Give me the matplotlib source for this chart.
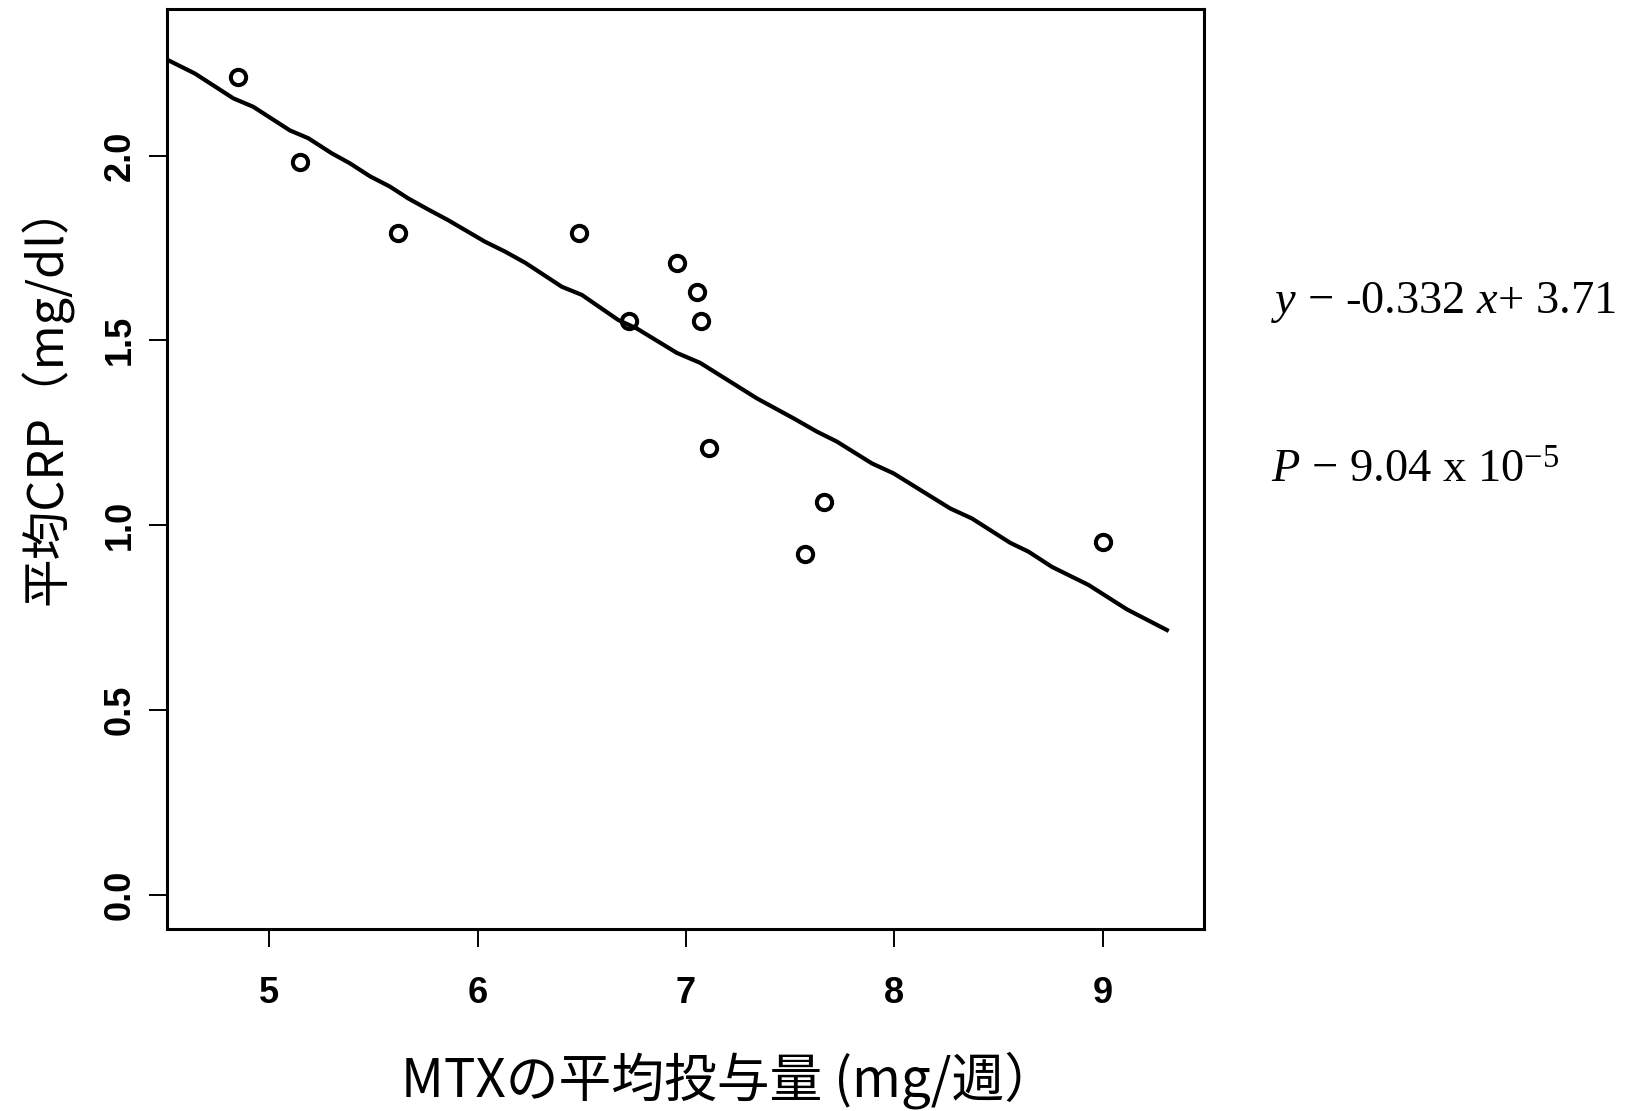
import numpy as np
import matplotlib
matplotlib.use('Agg')
import matplotlib.pyplot as plt

# datos
dosis = [4.85, 5.145, 5.62, 6.484, 6.724, 6.956, 7.052, 7.073, 7.108, 7.66, 7.571, 9.0]
crp = [2.212, 1.983, 1.791, 1.791, 1.553, 1.708, 1.630, 1.553, 1.208, 1.063, 0.921, 0.955]

# curva ajustada (trazo tal como aparece)
curva_x = [4.515, 4.643, 4.827, 4.923, 5.099, 5.187, 5.300, 5.387, 5.483, 5.579,
           5.667, 5.763, 5.859, 6.035, 6.132, 6.228, 6.404, 6.500, 6.675, 6.764,
           6.956, 7.068, 7.340, 7.516, 7.628, 7.724, 7.892, 7.996, 8.268, 8.372,
           8.556, 8.644, 8.756, 8.932, 9.116, 9.308]
curva_y = [2.258, 2.222, 2.155, 2.132, 2.068, 2.047, 2.006, 1.979, 1.944, 1.916,
           1.884, 1.854, 1.825, 1.767, 1.740, 1.710, 1.645, 1.623, 1.555, 1.532,
           1.466, 1.439, 1.343, 1.289, 1.253, 1.226, 1.167, 1.140, 1.045, 1.018,
           0.952, 0.928, 0.887, 0.838, 0.772, 0.716]

x_ticks = [5, 6, 7, 8, 9]
y_ticks = [0.0, 0.5, 1.0, 1.5, 2.0]
y_tick_labels = ['0.0', '0.5', '1.0', '1.5', '2.0']

W, H = 1637, 1111
fig = plt.figure(figsize=(W / 100, H / 100), dpi=100)
ax = fig.add_axes([167 / W, 1 - 929 / H, (1204 - 167) / W, (929 - 8.5) / H])

ax.plot(curva_x, curva_y, color='black', linewidth=3.0, solid_joinstyle='round')
ax.plot(dosis, crp, linestyle='none', marker='o', markersize=11,
        markerfacecolor='none', markeredgecolor='black', markeredgewidth=2.9)

ax.set_xlim(4.509, 9.486)
ax.set_ylim(-0.093, 2.398)

for s in ax.spines.values():
    s.set_linewidth(2.2)

tick_font = ['Liberation Sans', 'DejaVu Sans']
ax.set_xticks(x_ticks)
ax.set_xticklabels([str(t) for t in x_ticks], family=tick_font, fontsize=26,
                   fontweight='bold')
ax.set_yticks(y_ticks)
ax.set_yticklabels(y_tick_labels, family=tick_font, fontsize=26, rotation=90,
                   va='center', fontweight='bold')
ax.tick_params(axis='both', length=13, width=1.4, direction='out')
ax.tick_params(axis='x', pad=21)
ax.tick_params(axis='y', pad=8)

cjk = ['Noto Sans CJK JP', 'DejaVu Sans']
fig.text(729 / W, 1 - 1080 / H, 'MTXの平均投与量 (mg/週）', family=cjk,
         fontsize=38, ha='center', va='center')
fig.text(47 / W, 1 - 394 / H, '平均CRP（mg/dl）', family=cjk,
         fontsize=35, ha='center', va='center', rotation=90)

plt.rcParams['mathtext.fontset'] = 'custom'
plt.rcParams['mathtext.rm'] = 'Liberation Serif'
plt.rcParams['mathtext.it'] = 'Liberation Serif:italic'
serif = ['Liberation Serif', 'DejaVu Serif']
fig.text(1271 / W, 1 - 313 / H, r'$y$ − -0.332 $x$+ 3.71', family=serif,
         fontsize=33.5, ha='left', va='baseline')
fig.text(1271 / W, 1 - 483 / H, r'$P$ − 9.04 x 10$^{\mathrm{-5}}$', family=serif,
         fontsize=33.5, ha='left', va='baseline')

fig.savefig('out.png', dpi=100)
